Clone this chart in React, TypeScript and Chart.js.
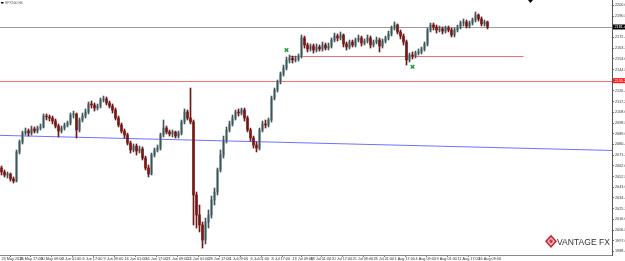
import React, { useEffect, useRef } from "react";
import { Chart, registerables } from "chart.js";

Chart.register(...registerables);

const symbolTitle = "SPX500,H4";
const firstOpen = 2060.1;

const closes = [
  2056.7, 2054.1, 2055.0, 2050.7, 2048.9, 2073.9, 2082.5, 2090.2, 2091.9, 2090.2,
  2093.7, 2091.9, 2094.5, 2095.4, 2104.8, 2104.0, 2103.1, 2100.5, 2096.2, 2091.9,
  2094.5, 2097.1, 2098.8, 2105.7, 2106.6, 2092.8, 2101.4, 2104.8, 2108.3, 2115.2,
  2114.3, 2111.7, 2113.4, 2118.6, 2119.5, 2116.0, 2113.4, 2110.0, 2103.1, 2097.1,
  2091.9, 2088.5, 2081.6, 2075.6, 2079.0, 2074.7, 2076.5, 2068.7, 2060.1, 2055.0,
  2071.3, 2075.6, 2077.3, 2088.5, 2094.5, 2091.1, 2089.4, 2091.1, 2087.6, 2090.2,
  2099.7, 2108.3, 2103.1, 2099.7, 2036.9, 2019.7, 2011.1, 1998.2, 2013.7, 2019.7,
  2032.6, 2039.5, 2058.4, 2071.3, 2084.2, 2092.8, 2098.0, 2103.1, 2108.3, 2107.4,
  2110.0, 2103.1, 2092.8, 2085.9, 2079.9, 2077.3, 2092.8, 2098.0, 2097.1, 2101.4,
  2120.3, 2127.2, 2134.1, 2141.0, 2146.1, 2153.0, 2154.7, 2153.0, 2153.9, 2156.4,
  2171.9, 2165.9, 2162.5, 2165.0, 2161.6, 2164.2, 2162.5, 2165.9, 2163.3, 2165.0,
  2170.2, 2173.6, 2171.9, 2174.5, 2166.8, 2164.2, 2168.5, 2165.9, 2170.2, 2171.9,
  2167.6, 2169.3, 2171.9, 2165.9, 2168.5, 2170.2, 2165.0, 2169.3, 2171.9, 2175.4,
  2180.5, 2183.1, 2177.1, 2173.6, 2168.5, 2153.0, 2157.3, 2156.4, 2159.0, 2159.9,
  2162.5, 2166.8, 2178.8, 2183.1, 2181.4, 2178.8, 2179.7, 2177.9, 2180.5, 2178.8,
  2174.5, 2178.8, 2181.4, 2184.8, 2185.7, 2182.2, 2184.8, 2187.4, 2191.7, 2188.3,
  2184.0, 2185.7, 2181.4,
];

const highs = [
  2061.8, 2058.4, 2056.7, 2055.8, 2052.4, 2075.6, 2084.2, 2091.9, 2094.5, 2093.7,
  2096.2, 2095.4, 2096.2, 2098.0, 2106.6, 2106.6, 2105.7, 2104.8, 2102.3, 2098.0,
  2096.2, 2098.8, 2100.5, 2107.4, 2109.1, 2107.4, 2103.1, 2107.4, 2110.9, 2116.9,
  2117.7, 2116.0, 2115.2, 2120.3, 2122.0, 2121.2, 2117.7, 2115.2, 2111.7, 2104.8,
  2098.8, 2093.7, 2090.2, 2083.3, 2080.8, 2080.8, 2079.0, 2078.2, 2070.4, 2062.7,
  2073.0, 2077.3, 2079.9, 2090.2, 2101.4, 2096.2, 2092.8, 2092.8, 2091.9, 2091.9,
  2101.4, 2110.9, 2110.0, 2128.9, 2101.4, 2039.5, 2028.3, 2013.7, 2017.1, 2024.0,
  2036.0, 2042.9, 2060.1, 2075.6, 2087.6, 2095.4, 2100.5, 2105.7, 2110.0, 2110.9,
  2111.7, 2111.7, 2104.8, 2094.5, 2087.6, 2082.5, 2094.5, 2100.5, 2101.4, 2103.1,
  2122.0, 2128.9, 2135.8, 2142.7, 2148.7, 2155.6, 2157.3, 2156.4, 2156.4, 2158.2,
  2174.5, 2173.6, 2167.6, 2166.8, 2166.8, 2166.8, 2165.9, 2168.5, 2167.6, 2167.6,
  2171.9, 2176.2, 2175.4, 2177.1, 2175.4, 2168.5, 2170.2, 2170.2, 2171.9, 2174.5,
  2173.6, 2171.1, 2174.5, 2173.6, 2170.2, 2172.8, 2171.9, 2171.1, 2173.6, 2177.9,
  2182.2, 2185.7, 2184.0, 2178.8, 2175.4, 2170.2, 2159.0, 2159.9, 2160.7, 2162.5,
  2164.2, 2168.5, 2180.5, 2184.8, 2184.8, 2183.1, 2182.2, 2181.4, 2182.2, 2182.2,
  2180.5, 2180.5, 2183.1, 2186.5, 2188.3, 2187.4, 2186.5, 2189.1, 2194.3, 2192.6,
  2190.0, 2187.4, 2186.5,
];

const lows = [
  2054.1, 2052.4, 2051.5, 2048.9, 2047.2, 2048.1, 2072.2, 2080.8, 2088.5, 2087.6,
  2088.5, 2090.2, 2090.2, 2092.8, 2094.5, 2101.4, 2100.5, 2098.0, 2094.5, 2086.8,
  2090.2, 2092.8, 2095.4, 2097.1, 2103.1, 2085.9, 2091.1, 2099.7, 2103.1, 2106.6,
  2111.7, 2109.1, 2110.0, 2111.7, 2116.9, 2114.3, 2111.7, 2107.4, 2101.4, 2095.4,
  2090.2, 2085.9, 2079.9, 2073.0, 2073.9, 2071.3, 2073.0, 2067.0, 2058.4, 2052.4,
  2054.1, 2069.6, 2073.9, 2075.6, 2086.8, 2089.4, 2087.6, 2086.8, 2085.9, 2085.9,
  2088.5, 2098.0, 2101.4, 2098.0, 2011.1, 2008.5, 2005.1, 1991.3, 1994.8, 2008.5,
  2017.1, 2028.3, 2036.9, 2056.7, 2068.7, 2081.6, 2091.1, 2096.2, 2101.4, 2104.8,
  2105.7, 2100.5, 2091.1, 2083.3, 2077.3, 2073.9, 2075.6, 2091.1, 2094.5, 2095.4,
  2099.7, 2118.6, 2125.5, 2132.4, 2139.2, 2144.4, 2150.4, 2150.4, 2151.3, 2152.1,
  2154.7, 2163.3, 2159.9, 2160.7, 2159.0, 2159.9, 2160.7, 2160.7, 2161.6, 2161.6,
  2163.3, 2168.5, 2169.3, 2170.2, 2164.2, 2161.6, 2162.5, 2164.2, 2164.2, 2168.5,
  2165.0, 2165.9, 2167.6, 2163.3, 2164.2, 2166.8, 2159.9, 2163.3, 2167.6, 2170.2,
  2173.6, 2178.8, 2175.4, 2171.1, 2165.9, 2148.7, 2151.3, 2153.9, 2154.7, 2157.3,
  2158.2, 2160.7, 2165.0, 2177.1, 2178.8, 2176.2, 2177.1, 2175.4, 2176.2, 2177.1,
  2172.8, 2172.8, 2177.1, 2179.7, 2182.2, 2180.5, 2180.5, 2183.1, 2185.7, 2186.5,
  2182.2, 2182.2, 2179.7,
];

const xTickIndex = [0, 6, 13, 20, 27, 34, 41, 48, 55, 62, 69, 76, 83, 90, 97, 103, 110, 117, 124, 131, 138, 145, 152, 159];
const xTickLabels = [
  "23 May 2016", "25 May 17:00", "30 May 09:00", "2 Jun 01:00", "6 Jun 17:00", "9 Jun 09:00",
  "14 Jun 01:00", "16 Jun 17:00", "21 Jun 09:00", "24 Jun 01:00", "28 Jun 17:00", "1 Jul 09:00",
  "6 Jul 01:00", "8 Jul 17:00", "13 Jul 09:00", "18 Jul 01:00", "20 Jul 17:00", "25 Jul 09:00",
  "28 Jul 01:00", "1 Aug 17:00", "4 Aug 09:00", "9 Aug 01:00", "11 Aug 17:00", "16 Aug 09:00",
];

const yTickValues = [
  2200.0, 2190.8, 2181.6, 2172.4, 2163.2, 2154.0, 2144.8, 2135.6, 2126.4, 2117.2, 2108.0, 2098.8,
  2089.6, 2080.4, 2071.2, 2062.0, 2052.8, 2043.6, 2034.4, 2025.2, 2016.0, 2006.8, 1997.6, 1988.4,
];
const yMin = 1985.3;
const yMax = 2204.6;
const slotCount = 204;

const greyLevel = 2181.4;
const redLevel = 2135.2;
const supportLevel = 2156.4;
const supportFrom = 96;
const supportTo = 174;
const trendStart = 2088.2;
const trendEnd = 2075.2;
const markerIndex = [95, 137];
const markerPrice = [2161.6, 2147.2];

const FONT = '"Liberation Sans", Arial, sans-serif';

export default function App() {
  const ref = useRef<HTMLCanvasElement>(null);

  useEffect(() => {
    document.body.style.margin = "0";
    const opens = closes.map((c, i) => (i === 0 ? firstOpen : closes[i - 1]));
    const up = closes.map((c, i) => c >= opens[i]);
    const labels = Array.from({ length: slotCount }, (_, i) => String(i));
    const wickData = lows.map((l, i) => [l, highs[i]]);
    const bodyData = closes.map((c, i) => {
      const lo = Math.min(c, opens[i]);
      const hi = Math.max(c, opens[i]);
      return hi - lo < 0.5 ? [lo - 0.25, hi + 0.25] : [lo, hi];
    });
    const markerData = labels.map((_, i) => {
      const k = markerIndex.indexOf(i);
      return k >= 0 ? markerPrice[k] : null;
    });

    const overlay = {
      id: "overlay",
      beforeDatasetsDraw(chart: any) {
        const { ctx, chartArea: a, scales } = chart;
        const x = scales.x;
        const y = scales.y;
        ctx.save();
        ctx.lineWidth = 1;
        const hline = (price: number, x0: number, x1: number, color: string) => {
          const py = Math.round(y.getPixelForValue(price)) + 0.5;
          ctx.strokeStyle = color;
          ctx.beginPath();
          ctx.moveTo(x0, py);
          ctx.lineTo(x1, py);
          ctx.stroke();
        };
        hline(greyLevel, a.left, a.right, "#9c9c9c");
        hline(redLevel, a.left, a.right, "#f07070");
        hline(supportLevel, x.getPixelForValue(supportFrom), x.getPixelForValue(supportTo), "#f07070");
        ctx.strokeStyle = "#7070ff";
        ctx.beginPath();
        ctx.moveTo(a.left, y.getPixelForValue(trendStart));
        ctx.lineTo(a.right, y.getPixelForValue(trendEnd));
        ctx.stroke();
        ctx.restore();
      },
      afterDraw(chart: any) {
        const { ctx, chartArea: a, scales } = chart;
        const y = scales.y;
        ctx.save();
        const tag = (price: number, bg: string) => {
          const py = y.getPixelForValue(price);
          ctx.fillStyle = bg;
          ctx.fillRect(a.right + 1, py - 2.5, 12, 5);
          ctx.fillStyle = "#ffffff";
          ctx.font = `3.8px ${FONT}`;
          ctx.textBaseline = "middle";
          ctx.textAlign = "left";
          ctx.fillText(price.toFixed(2), a.right + 2.5, py);
        };
        tag(greyLevel, "#000000");
        tag(redLevel, "#ff1a1a");

        // title
        ctx.fillStyle = "#000";
        ctx.fillRect(1, 2, 2.5, 1.5);
        ctx.fillStyle = "#555";
        ctx.font = `3.4px ${FONT}`;
        ctx.textBaseline = "middle";
        ctx.textAlign = "left";
        ctx.fillText(symbolTitle, 5, 2.8);

        // shift marker
        ctx.fillStyle = "#000";
        ctx.beginPath();
        ctx.moveTo(528, 0);
        ctx.lineTo(533, 0);
        ctx.lineTo(530.5, 3);
        ctx.closePath();
        ctx.fill();

        // logo
        const diamond = (cx: number, cy: number, hw: number, hh: number, col: string) => {
          ctx.fillStyle = col;
          ctx.beginPath();
          ctx.moveTo(cx, cy - hh);
          ctx.lineTo(cx + hw, cy);
          ctx.lineTo(cx, cy + hh);
          ctx.lineTo(cx - hw, cy);
          ctx.closePath();
          ctx.fill();
        };
        diamond(551, 241.3, 6, 6.6, "#c8202f");
        diamond(551, 241.3, 4, 4.4, "#f4b8bc");
        diamond(551, 241.3, 2, 2.2, "#d63140");
        ctx.fillStyle = "#333";
        ctx.font = `9.3px ${FONT}`;
        ctx.textBaseline = "middle";
        ctx.fillText("VANTAGE FX", 557, 242.4, 53);
        ctx.restore();
      },
    };

    const chart = new Chart(ref.current as HTMLCanvasElement, {
      type: "bar",
      data: {
        labels,
        datasets: [
          {
            type: "line",
            data: markerData as any,
            showLine: false,
            pointStyle: "crossRot",
            pointRadius: 2.5,
            borderColor: "#1f9e3a",
            backgroundColor: "#1f9e3a",
            pointBorderWidth: 1.5,
            order: 0,
          } as any,
          {
            data: wickData as any,
            backgroundColor: up.map((u) => (u ? "#3e5559" : "#6e1818")),
            barThickness: 1,
            grouped: false,
            borderWidth: 0,
            order: 1,
          } as any,
          {
            data: bodyData as any,
            backgroundColor: up.map((u) => (u ? "#9cb0b4" : "#8e2424")),
            barThickness: 2,
            grouped: false,
            borderWidth: 0,
            order: 2,
          } as any,
        ],
      },
      options: {
        responsive: true,
        maintainAspectRatio: false,
        animation: false,
        events: [],
        layout: { padding: 0, autoPadding: false },
        plugins: { legend: { display: false }, tooltip: { enabled: false } },
        scales: {
          x: {
            type: "category",
            offset: true,
            grid: { display: true, drawOnChartArea: false, drawTicks: true, tickLength: 2, color: "#777" },
            border: { display: true, color: "#8a8a8a" },
            ticks: {
              autoSkip: false,
              maxRotation: 0,
              minRotation: 0,
              align: "start",
              padding: 0,
              color: "#333",
              font: { size: 3.8, family: FONT },
              callback: (_v: any, i: number) => xTickLabels[i] ?? "",
            },
            afterBuildTicks: (s: any) => {
              s.ticks = xTickIndex.map((v) => ({ value: v }));
            },
            afterFit: (s: any) => {
              s.height = 6;
              s.paddingLeft = 0;
              s.paddingRight = 0;
            },
          } as any,
          y: {
            position: "right",
            min: yMin,
            max: yMax,
            grid: { drawOnChartArea: false, drawTicks: true, tickLength: 2, color: "#666" },
            border: { display: true, color: "#555" },
            ticks: {
              padding: 1,
              color: "#333",
              font: { size: 3.8, family: FONT },
              callback: (v: any) => Number(v).toFixed(2),
            },
            afterBuildTicks: (s: any) => {
              s.ticks = yTickValues.map((v) => ({ value: v }));
            },
            afterFit: (s: any) => {
              s.width = 13;
              s.paddingTop = 0;
              s.paddingBottom = 0;
            },
          } as any,
        },
      },
      plugins: [overlay],
    });
    return () => chart.destroy();
  }, []);

  return (
    <div style={{ position: "fixed", left: 0, top: 0, width: 625, height: 261, background: "#fff" }}>
      <canvas ref={ref} />
    </div>
  );
}
